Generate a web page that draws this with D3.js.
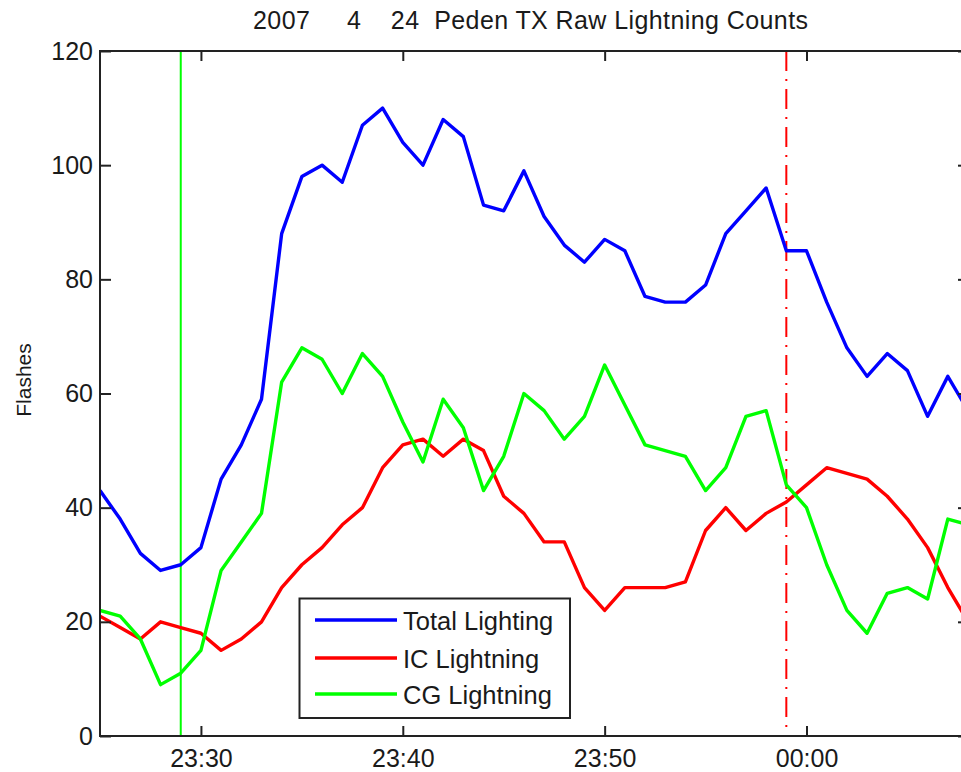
<!DOCTYPE html>
<html>
<head>
<meta charset="utf-8">
<script src="https://cdn.jsdelivr.net/npm/d3@7"></script>
<style>
  html, body { margin: 0; padding: 0; background: #fff; }
  svg text { font-family: "Liberation Sans", Arial, Helvetica, sans-serif; fill: #1a1a1a; }
</style>
</head>
<body>
<svg id="chart" width="961" height="772"></svg>
<script>
// ---- data ----
const times = ["23:25","23:26","23:27","23:28","23:29","23:30","23:31","23:32","23:33","23:34",
  "23:35","23:36","23:37","23:38","23:39","23:40","23:41","23:42","23:43","23:44",
  "23:45","23:46","23:47","23:48","23:49","23:50","23:51","23:52","23:53","23:54",
  "23:55","23:56","23:57","23:58","23:59","00:00","00:01","00:02","00:03","00:04",
  "00:05","00:06","00:07","00:08"];
const totalLightning = [43,38,32,29,30,33,45,51,59,88,98,100,97,107,110,104,100,108,105,93,
  92,99,91,86,83,87,85,77,76,76,79,88,92,96,85,85,76,68,63,67,64,56,63,57];
const icLightning = [21,19,17,20,19,18,15,17,20,26,30,33,37,40,47,51,52,49,52,50,
  42,39,34,34,26,22,26,26,26,27,36,40,36,39,41,44,47,46,45,42,38,33,26,20];
const cgLightning = [22,21,17,9,11,15,29,34,39,62,68,66,60,67,63,55,48,59,54,43,
  49,60,57,52,56,65,58,51,50,49,43,47,56,57,44,40,30,22,18,25,26,24,38,37];
const seriesNames = ["Total Lighting", "IC Lightning", "CG Lightning"];
const seriesColors = ["#0000ff", "#ff0000", "#00ff00"];
const yTicks = [0, 20, 40, 60, 80, 100, 120];
const xTicks = ["23:30", "23:40", "23:50", "00:00"];
const xRange = ["23:25", "00:08"];
const markerGreen = "23:29";
const markerRed = "23:59";
const titleText = "2007     4    24  Peden TX Raw Lightning Counts";
const yLabel = "Flashes";

// ---- helpers ----
function toDate(hm) {
  const [h, m] = hm.split(":").map(Number);
  const day = h < 12 ? 25 : 24;
  return new Date(2007, 3, day, h, m);
}

const svg = d3.select("#chart");
const margin = { left: 100, top: 51, right: 968, bottom: 736 };

const x = d3.scaleTime().domain(xRange.map(toDate)).range([margin.left, margin.right]);
const y = d3.scaleLinear().domain([0, 120]).range([margin.bottom, margin.top]);

svg.append("defs").append("clipPath").attr("id", "plotclip")
  .append("rect").attr("x", margin.left).attr("y", margin.top)
  .attr("width", margin.right - margin.left).attr("height", margin.bottom - margin.top);

// title
svg.append("text")
  .attr("x", 253).attr("y", 29)
  .attr("text-anchor", "start")
  .attr("xml:space", "preserve")
  .attr("textLength", 555)
  .attr("lengthAdjust", "spacing")
  .style("white-space", "pre")
  .style("font-size", "25px")
  .text(titleText);

// y label
svg.append("text")
  .attr("transform", "translate(31,380) rotate(-90)")
  .attr("text-anchor", "middle")
  .style("font-size", "21px")
  .text(yLabel);

const plot = svg.append("g").attr("clip-path", "url(#plotclip)");

// vertical marker lines
plot.append("line")
  .attr("x1", x(toDate(markerGreen))).attr("x2", x(toDate(markerGreen)))
  .attr("y1", margin.top).attr("y2", margin.bottom)
  .attr("stroke", "#00ff00").attr("stroke-width", 2);
plot.append("line")
  .attr("x1", x(toDate(markerRed))).attr("x2", x(toDate(markerRed)))
  .attr("y1", margin.top).attr("y2", margin.bottom)
  .attr("stroke", "#ff0000").attr("stroke-width", 2)
  .attr("stroke-dasharray", "20,8,2,8");

// data lines
const allSeries = [totalLightning, icLightning, cgLightning];
const line = d3.line()
  .x((d, i) => x(toDate(times[i])))
  .y(d => y(d));
allSeries.forEach((vals, k) => {
  plot.append("path")
    .datum(vals)
    .attr("fill", "none")
    .attr("stroke", seriesColors[k])
    .attr("stroke-width", 3.4)
    .attr("stroke-linejoin", "round")
    .attr("d", line);
});

// axes (MATLAB style: box, inward ticks)
const fmt = d3.timeFormat("%H:%M");
const xTickDates = xTicks.map(toDate);
const axisFont = g => g.selectAll("text").style("font-size", "25px").style("fill", "#1a1a1a")
  .style("font-family", "'Liberation Sans', Arial, sans-serif");

const gx = svg.append("g").attr("transform", `translate(0,${margin.bottom})`)
  .call(d3.axisBottom(x).tickValues(xTickDates).tickFormat(fmt).tickSizeInner(-10).tickSizeOuter(0).tickPadding(13));
gx.call(axisFont);
const gxt = svg.append("g").attr("transform", `translate(0,${margin.top})`)
  .call(d3.axisTop(x).tickValues(xTickDates).tickFormat("").tickSizeInner(-10).tickSizeOuter(0));
const gy = svg.append("g").attr("transform", `translate(${margin.left},0)`)
  .call(d3.axisLeft(y).tickValues(yTicks).tickSizeInner(-11).tickSizeOuter(0).tickPadding(7));
gy.call(axisFont);
const gyr = svg.append("g").attr("transform", `translate(${margin.right},0)`)
  .call(d3.axisRight(y).tickValues(yTicks).tickFormat("").tickSizeInner(-10).tickSizeOuter(0));

[gx, gxt, gy, gyr].forEach(g => {
  g.select(".domain").remove();
  g.selectAll(".tick line").attr("stroke", "#222").attr("stroke-width", 2);
});

svg.append("rect")
  .attr("x", margin.left).attr("y", margin.top)
  .attr("width", margin.right - margin.left).attr("height", margin.bottom - margin.top)
  .attr("fill", "none").attr("stroke", "#222").attr("stroke-width", 2);

// legend
const lg = svg.append("g");
lg.append("rect").attr("x", 299.5).attr("y", 598.5).attr("width", 270.5).attr("height", 119.5)
  .attr("fill", "#fff").attr("stroke", "#222").attr("stroke-width", 2);
const legendY = [620, 658, 694];
seriesNames.forEach((name, k) => {
  lg.append("line").attr("x1", 315).attr("x2", 397)
    .attr("y1", legendY[k]).attr("y2", legendY[k])
    .attr("stroke", seriesColors[k]).attr("stroke-width", 3.4);
  lg.append("text").attr("x", 403).attr("y", legendY[k] + 10)
    .style("font-size", "25.5px").text(name);
});
</script>
</body>
</html>
